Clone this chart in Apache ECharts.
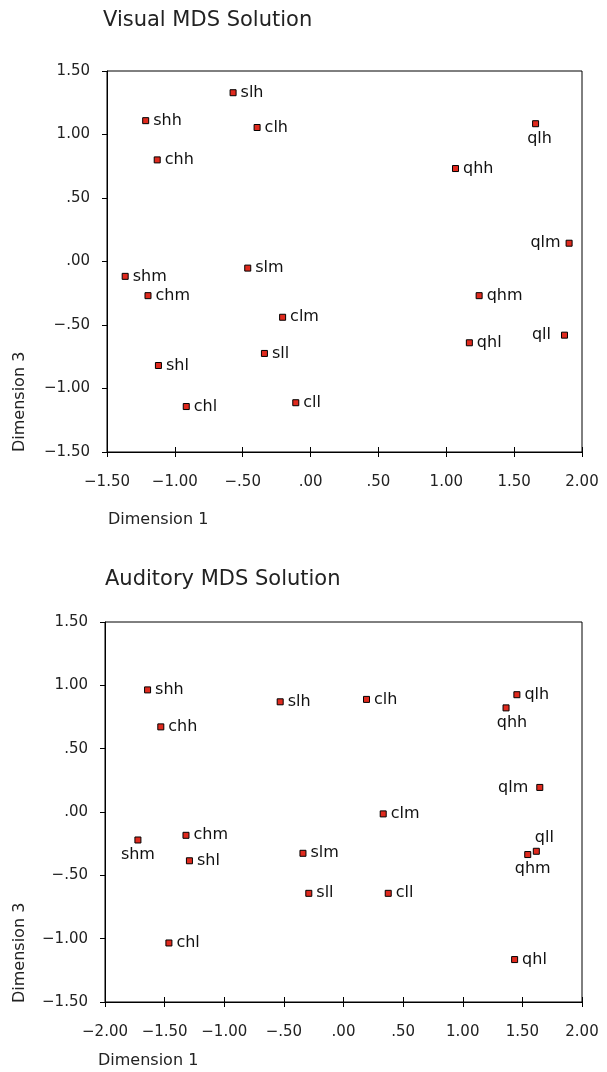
<!DOCTYPE html>
<html>
<head>
<meta charset="utf-8">
<script src="https://cdn.jsdelivr.net/npm/echarts@6/dist/echarts.min.js"></script>
<style>
html,body{margin:0;padding:0;background:#fff;}
#chart{width:607px;height:1072px;}
</style>
</head>
<body>
<div id="chart"></div>
<script>
// ---- Visual MDS solution ----
const visualNames = ['slh','shh','clh','chh','qlh','qhh','qlm','slm','shm','chm','qhm','clm','qll','qhl','sll','shl','chl','cll'];
const visualDim1  = [-0.571,-1.215,-0.394,-1.130,1.658,1.068,1.905,-0.463,-1.366,-1.198,1.242,-0.206,1.871,1.170,-0.340,-1.121,-0.916,-0.109];
const visualDim3  = [1.329,1.109,1.055,0.800,1.085,0.732,0.144,-0.052,-0.117,-0.269,-0.269,-0.439,-0.580,-0.640,-0.724,-0.819,-1.142,-1.112];

// ---- Auditory MDS solution ----
const auditoryNames = ['shh','slh','clh','qlh','qhh','chh','qlm','clm','chm','shm','qll','qhm','slm','shl','sll','cll','chl','qhl'];
const auditoryDim1  = [-1.643,-0.531,0.193,1.454,1.363,-1.532,1.646,0.333,-1.321,-1.724,1.617,1.545,-0.340,-1.292,-0.291,0.375,-1.464,1.435];
const auditoryDim3  = [0.964,0.870,0.889,0.926,0.822,0.672,0.194,-0.015,-0.184,-0.221,-0.310,-0.336,-0.326,-0.385,-0.642,-0.642,-1.034,-1.165];

// ---- tick values ----
const visualXTicks   = [-1.5,-1.0,-0.5,0,0.5,1.0,1.5,2.0];
const auditoryXTicks = [-2.0,-1.5,-1.0,-0.5,0,0.5,1.0,1.5,2.0];
const dim3Ticks      = [-1.5,-1.0,-0.5,0,0.5,1.0,1.5];

const titles = ['Visual MDS Solution','Auditory MDS Solution'];
const xName = 'Dimension 1';
const yName = 'Dimension 3';

// ---- styles (not data) ----
const FONT = '"DejaVu Sans", sans-serif';
const visualLabelStyle = {
  qlh: {position:'bottom', distance:4, offset:[4,0]},
  qlm: {position:'left', distance:5},
  qll: {position:'left', distance:10}
};
const auditoryLabelStyle = {
  qhh: {position:'bottom', distance:3, offset:[6,0]},
  shm: {position:'bottom', distance:3},
  qhm: {position:'bottom', distance:3, offset:[5,0]},
  qlm: {position:'left', distance:8},
  qll: {position:'top', distance:2, offset:[8,0]}
};

function fmt(v){
  let s = Math.abs(v).toFixed(2);
  if (s.charAt(0) === '0') s = s.slice(1);
  return (v < -1e-9 ? '\u2212' : '') + s;
}

function buildData(names, xs, ys, styles){
  return names.map((n,i) => {
    const d = {name:n, value:[xs[i], ys[i]]};
    if (styles[n]) d.label = Object.assign({}, styles[n]);
    return d;
  });
}

const chart = echarts.init(document.getElementById('chart'), null, {renderer:'canvas'});

const grids = [
  {left:107, top:71, width:475, height:381},
  {left:105, top:622, width:477, height:380}
];

function mainX(gi, ticks){
  return {
    type:'value', gridIndex:gi, position:'bottom',
    min:ticks[0], max:ticks[ticks.length-1], interval:0.5,
    axisLine:{show:true, onZero:false, lineStyle:{color:'#000', width:1}},
    axisTick:{show:true, inside:false, length:5, lineStyle:{color:'#000'}},
    axisLabel:{show:true, margin:23, fontSize:15, fontFamily:FONT, color:'#222', formatter:fmt,
      showMinLabel:true, showMaxLabel:true},
    splitLine:{show:false}
  };
}
function innerTickX(gi, ticks){
  return {
    type:'value', gridIndex:gi, position:'bottom',
    min:ticks[0], max:ticks[ticks.length-1], interval:0.5,
    axisLine:{show:false, onZero:false},
    axisTick:{show:true, inside:true, length:5, lineStyle:{color:'#000'}},
    axisLabel:{show:false},
    splitLine:{show:false}
  };
}
function mainY(gi){
  return {
    type:'value', gridIndex:gi, position:'left',
    min:dim3Ticks[0], max:dim3Ticks[dim3Ticks.length-1], interval:0.5,
    axisLine:{show:true, onZero:false, lineStyle:{color:'#000', width:1}},
    axisTick:{show:true, inside:false, length:5, lineStyle:{color:'#000'}},
    axisLabel:{show:true, margin:17, fontSize:15, fontFamily:FONT, color:'#222', formatter:fmt},
    splitLine:{show:false}
  };
}

const seriesBase = {
  type:'scatter', symbol:'rect', symbolSize:6,
  itemStyle:{color:'#e02a1e', borderColor:'#000', borderWidth:1, opacity:1},
  label:{show:true, position:'right', distance:4, formatter:'{b}', fontSize:16, fontFamily:FONT, color:'#111'},
  emphasis:{disabled:true},
  animation:false
};

const option = {
  backgroundColor:'#fff',
  animation:false,
  grid: grids.map(g => Object.assign({show:true, borderColor:'#000', borderWidth:1, backgroundColor:'transparent'}, g)),
  xAxis: [mainX(0, visualXTicks), innerTickX(0, visualXTicks), mainX(1, auditoryXTicks), innerTickX(1, auditoryXTicks)],
  yAxis: [mainY(0), mainY(1)],
  series: [
    Object.assign({}, seriesBase, {name:titles[0], xAxisIndex:0, yAxisIndex:0,
      data: buildData(visualNames, visualDim1, visualDim3, visualLabelStyle)}),
    Object.assign({}, seriesBase, {name:titles[1], xAxisIndex:2, yAxisIndex:1,
      data: buildData(auditoryNames, auditoryDim1, auditoryDim3, auditoryLabelStyle)})
  ],
  graphic: [
    {type:'text', x:103, y:21, style:{text:titles[0], fontSize:21, fontFamily:FONT, fill:'#222', align:'left', verticalAlign:'middle'}},
    {type:'text', x:105, y:580, style:{text:titles[1], fontSize:21, fontFamily:FONT, fill:'#222', align:'left', verticalAlign:'middle'}},
    {type:'text', x:108, y:520, style:{text:xName, fontSize:16, fontFamily:FONT, fill:'#222', align:'left', verticalAlign:'middle'}},
    {type:'text', x:98, y:1061, style:{text:xName, fontSize:16, fontFamily:FONT, fill:'#222', align:'left', verticalAlign:'middle'}},
    {type:'text', x:20, y:452, rotation:Math.PI/2, style:{text:yName, fontSize:16, fontFamily:FONT, fill:'#222', align:'left', verticalAlign:'middle'}},
    {type:'text', x:20, y:1003, rotation:Math.PI/2, style:{text:yName, fontSize:16, fontFamily:FONT, fill:'#222', align:'left', verticalAlign:'middle'}}
  ]
};
chart.setOption(option);
</script>
</body>
</html>
